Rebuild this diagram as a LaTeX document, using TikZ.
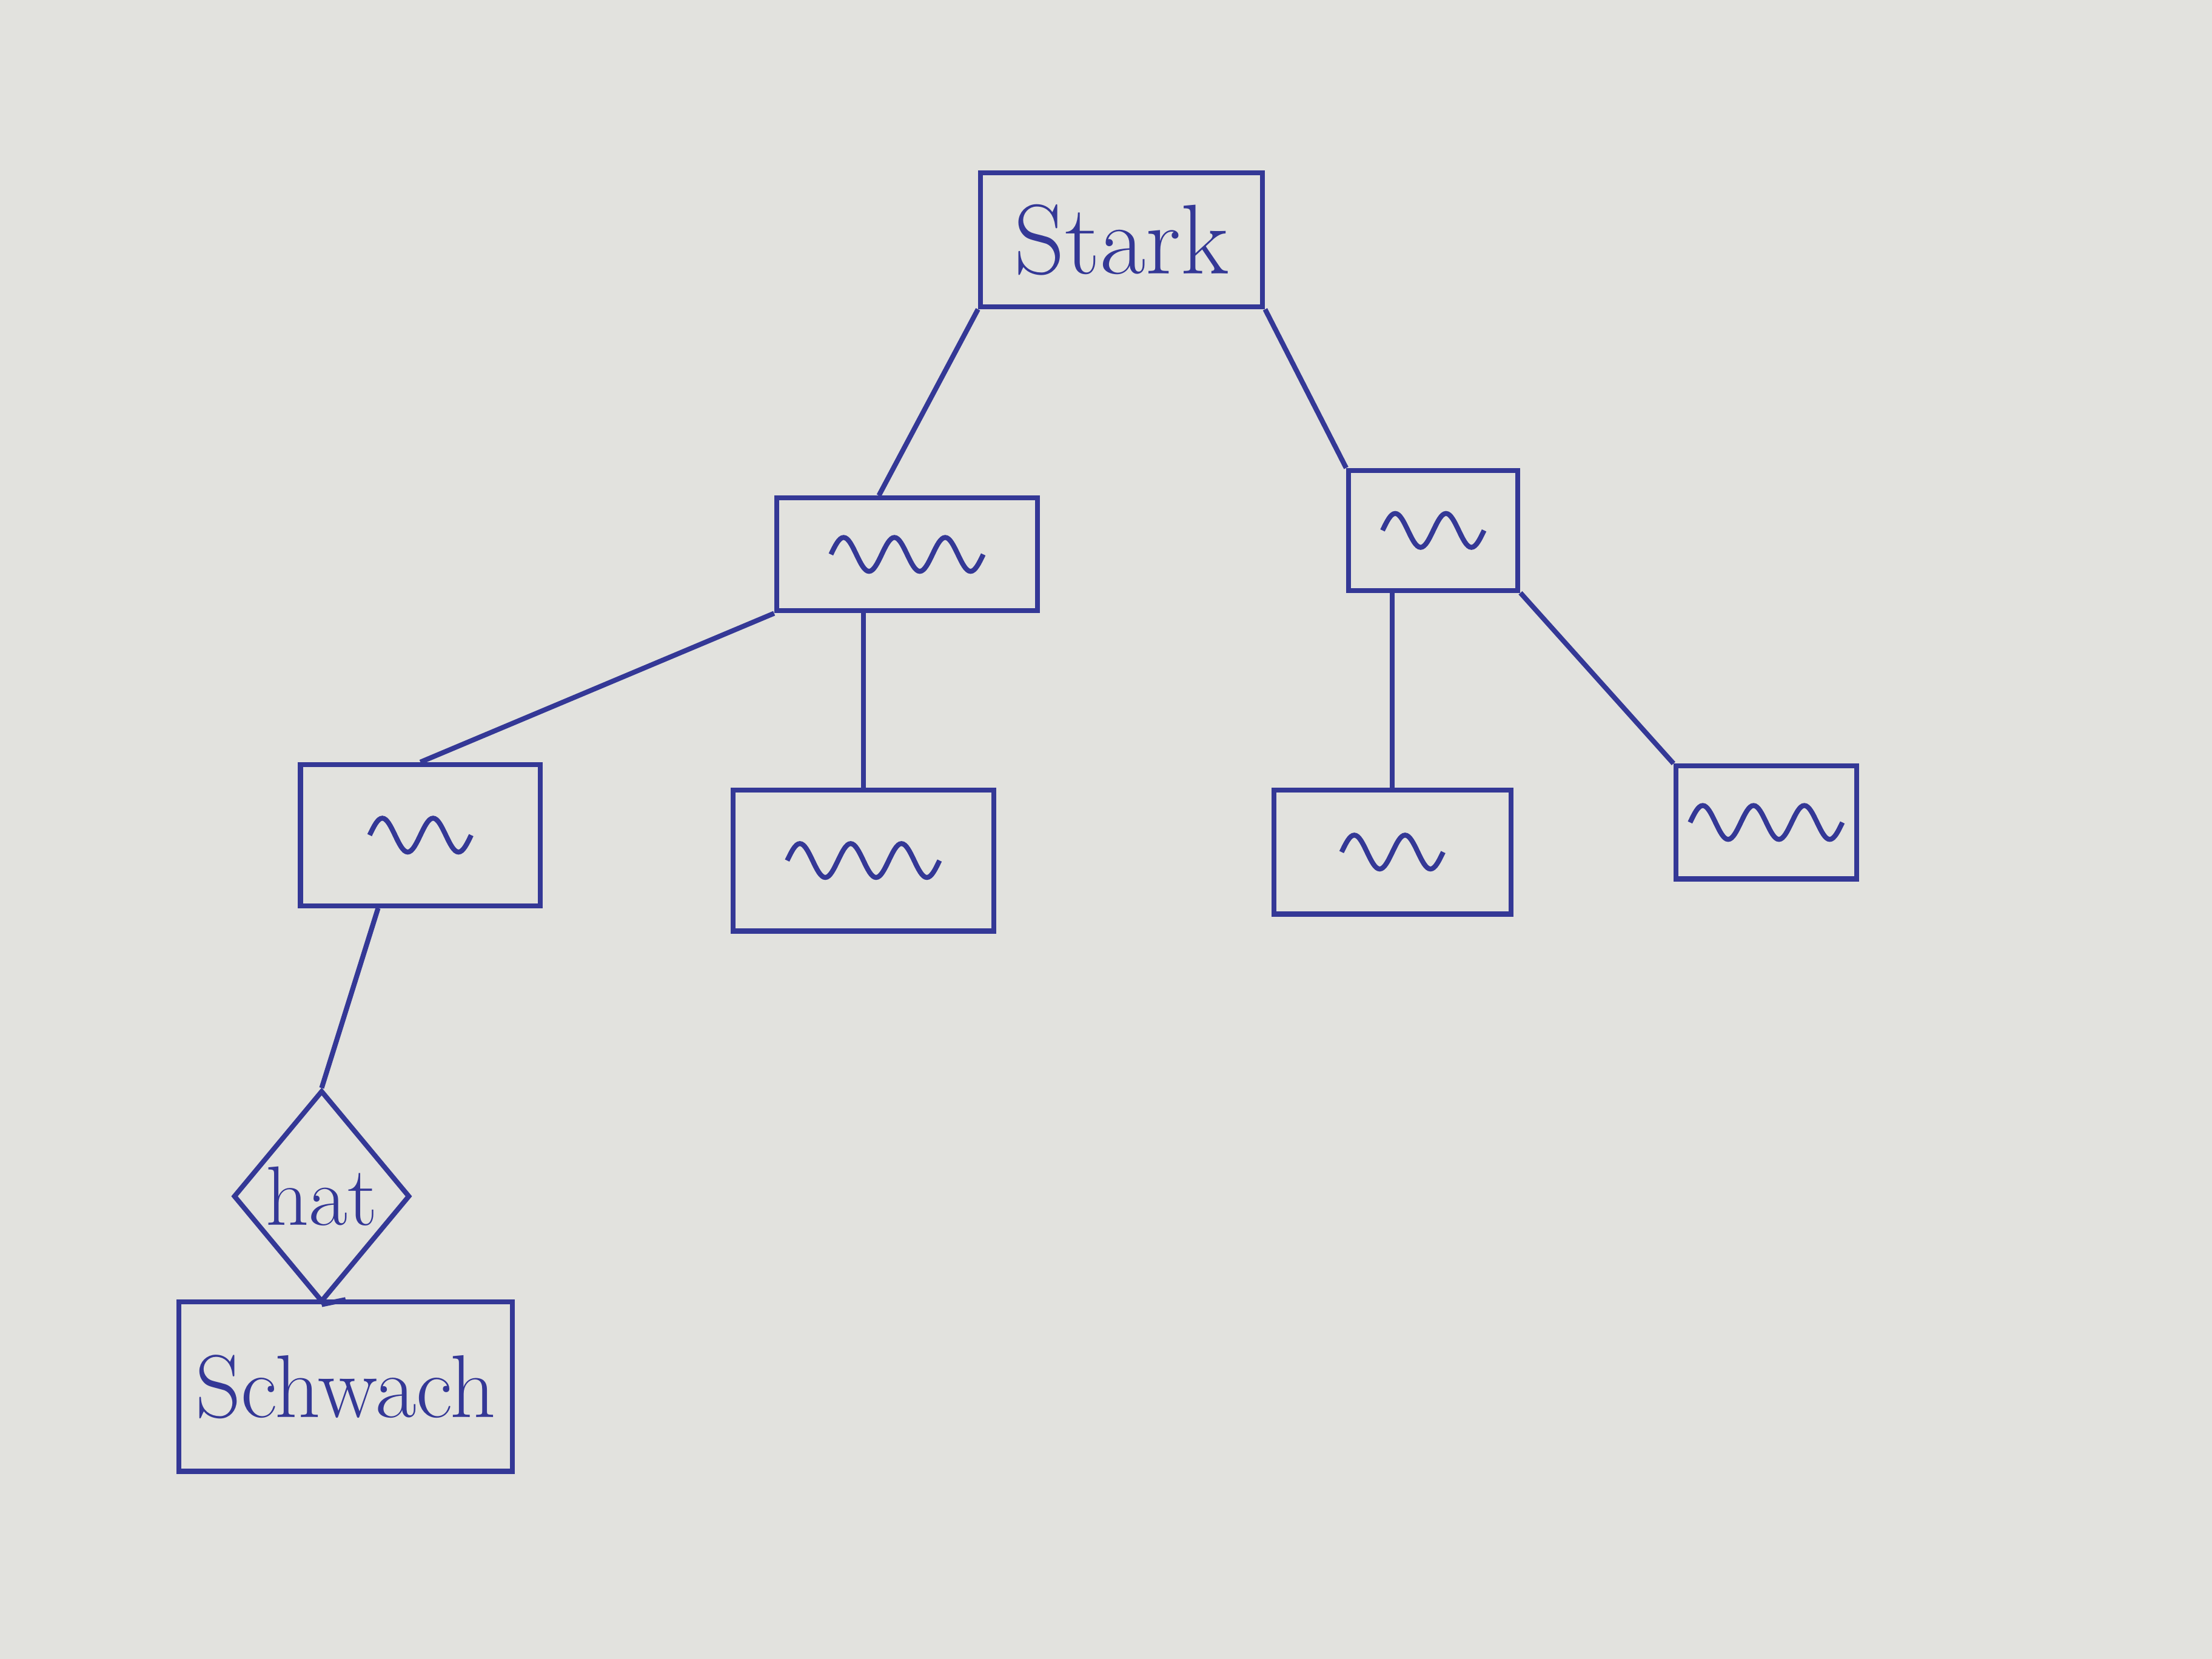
\documentclass[tikz,border=0pt]{standalone}
\usepackage{tikz}
\usetikzlibrary{shapes.geometric}

\definecolor{ink}{RGB}{52,56,150}
\definecolor{paper}{RGB}{226,226,222}

% scribble inside a box: node, start shift, number of waves
\newcommand{\scrawl}[3]{%
  \draw[ink] ([xshift=#2]#1.center) \foreach \w in {1,...,#3} {sin ++(0.9mm,1.2mm) cos ++(0.9mm,-1.2mm) sin ++(0.9mm,-1.2mm) cos ++(0.9mm,1.2mm)};}

\begin{document}
\begin{tikzpicture}[x=1cm, y=1cm, line width=1pt,
        every node/.style={draw=ink, text=ink, font=\fontsize{20}{24}\selectfont},
        box/.style={rectangle},
        rhombus/.style={diamond, inner sep=0pt, minimum width=1.25cm, minimum height=1.5cm, font=\fontsize{17}{20}\selectfont}]
        % Paper
        \fill[paper] (0,0) rectangle (15.68,-11.76);
        \useasboundingbox (0,0) rectangle (15.68,-11.76);

        % Vertices
        \node[box, minimum width=2.0cm, minimum height=0.95cm] (stark) at (7.95,-1.7) {Stark};
        \node[box, minimum width=1.85cm, minimum height=0.8cm] (mL) at (6.43,-3.93) {};
        \node[box, minimum width=1.2cm, minimum height=0.85cm] (mR) at (10.16,-3.76) {};
        \node[box, minimum width=1.7cm, minimum height=1.0cm] (lL) at (2.98,-5.92) {};
        \node[box, minimum width=1.85cm, minimum height=1.0cm] (lM) at (6.12,-6.1) {};
        \node[box, minimum width=1.68cm, minimum height=0.88cm] (lR) at (9.87,-6.04) {};
        \node[box, minimum width=1.28cm, minimum height=0.8cm] (lRR) at (12.52,-5.83) {};
        \node[rhombus] (hat) at (2.28,-8.48) {hat};
        \node[box, minimum width=2.3cm, minimum height=1.2cm, font=\fontsize{18}{22}\selectfont] (schwach) at (2.45,-9.83) {Schwach};

        % Scribbles
        \scrawl{mL}{-5.4mm}{3}
        \scrawl{mR}{-3.6mm}{2}
        \scrawl{lL}{-3.6mm}{2}
        \scrawl{lM}{-5.4mm}{3}
        \scrawl{lR}{-3.6mm}{2}
        \scrawl{lRR}{-5.4mm}{3}

        % Edges
        \draw[ink] (stark.south west) -- ([xshift=-2mm]mL.north);
        \draw[ink] (stark.south east) -- (mR.north west);
        \draw[ink] (mL.south west) -- (lL.north);
        \draw[ink] (lM.north |- mL.south) -- (lM.north);
        \draw[ink] (lR.north |- mR.south) -- (lR.north);
        \draw[ink] (mR.south east) -- (lRR.north west);
        \draw[ink] ([xshift=-3mm]lL.south) -- (hat.north);
        \draw[ink] (hat.south) -- (schwach.north);
    \end{tikzpicture}
\end{document}
